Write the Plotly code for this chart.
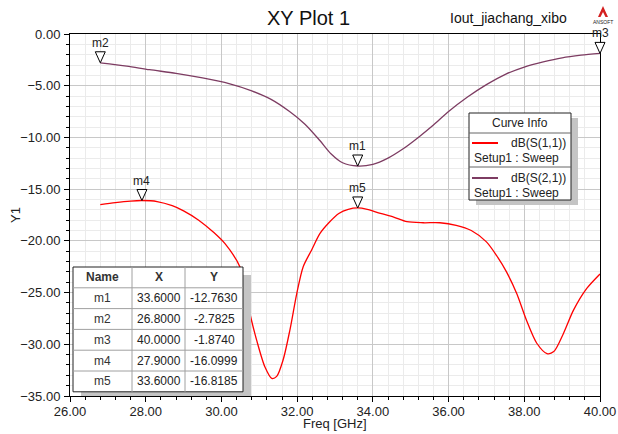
import plotly.graph_objects as go

# ---- sweep data (Freq in GHz, magnitude in dB) ----
freq_s11 = [26.8, 27.2, 27.6, 27.9, 28.3, 28.7, 29.0, 29.4, 29.8, 30.1, 30.5, 30.75,
            30.93, 31.15, 31.33, 31.46, 31.63, 31.81, 31.99, 32.16, 32.38, 32.6, 32.85,
            33.1, 33.35, 33.6, 33.85, 34.2, 34.55, 34.9, 35.33, 35.77, 36.2, 36.6,
            37.0, 37.3, 37.53, 37.8, 38.06, 38.33, 38.6, 38.78, 39.04, 39.3, 39.65, 40.0]
s11_db = [-16.5, -16.3, -16.15, -16.0999, -16.2, -16.6, -17.1, -18.0, -19.2, -20.3,
          -22.6, -27.0, -29.6, -32.2, -33.3, -33.1, -31.5, -28.6, -25.1, -22.5, -20.9,
          -19.3, -18.2, -17.35, -16.95, -16.8185, -16.95, -17.35, -17.7, -18.15, -18.25,
          -18.25, -18.5, -19.0, -20.1, -21.6, -23.0, -25.1, -27.7, -29.9, -30.9, -30.7,
          -28.9, -26.7, -24.6, -23.2]

freq_s21 = [26.8, 27.5, 28.1, 28.8, 29.5, 30.2, 30.8, 31.3, 31.8, 32.2, 32.6, 32.9,
            33.2, 33.6, 34.0, 34.4, 34.8, 35.2, 35.6, 36.0, 36.5, 37.0, 37.5, 38.0,
            38.5, 39.0, 39.5, 40.0]
s21_db = [-2.7825, -3.1, -3.45, -3.8, -4.25, -4.8, -5.5, -6.3, -7.5, -8.7, -10.3,
          -11.6, -12.45, -12.763, -12.6, -12.0, -11.1, -10.0, -8.8, -7.5, -6.1, -4.9,
          -3.9, -3.2, -2.7, -2.3, -2.05, -1.874]

marker_names = ["m1", "m2", "m3", "m4", "m5"]
marker_freq = [33.6, 26.8, 40.0, 27.9, 33.6]
marker_db = [-12.7630, -2.7825, -1.8740, -16.0999, -16.8185]

curve_names = ["dB(S(1,1))", "dB(S(2,1))"]
curve_setup = "Setup1 : Sweep"
table_header = ["Name", "X", "Y"]

RED = "#ff0000"
PURPLE = "#7d3c62"
FONT = "Liberation Sans, Arial, sans-serif"

X_RANGE = [26.0, 40.0]
Y_RANGE = [-35.0, 0.0]
W, H = 618, 434
M_L, M_R, M_T, M_B = 70, 18, 34, 38
PW = W - M_L - M_R
PH = H - M_T - M_B


def px(xp):
    """pixel column -> paper x"""
    return (xp - M_L) / PW


def py(yp):
    """pixel row -> paper y"""
    return (H - M_B - yp) / PH


def dx(v):
    """data x -> paper x"""
    return (v - X_RANGE[0]) / (X_RANGE[1] - X_RANGE[0])


def dy(v):
    """data y -> paper y"""
    return (v - Y_RANGE[0]) / (Y_RANGE[1] - Y_RANGE[0])


fig = go.Figure()
fig.add_trace(go.Scatter(x=freq_s11, y=s11_db, mode="lines", name=curve_names[0],
                         line=dict(color=RED, width=1.3, shape="spline", smoothing=0.8),
                         showlegend=False, hoverinfo="skip"))
fig.add_trace(go.Scatter(x=freq_s21, y=s21_db, mode="lines", name=curve_names[1],
                         line=dict(color=PURPLE, width=1.3, shape="spline", smoothing=0.8),
                         showlegend=False, hoverinfo="skip"))

shapes = []
annotations = []

# ---- markers: open down-triangles whose tip sits on the point ----
for name, fx, fy in zip(marker_names, marker_freq, marker_db):
    shapes.append(dict(type="path", xref="paper", yref="paper",
                       xsizemode="pixel", ysizemode="pixel",
                       xanchor=dx(fx), yanchor=dy(fy),
                       path="M -5,11 L 5,11 L 0,0 Z",
                       fillcolor="white", line=dict(color="black", width=1),
                       layer="above"))
    annotations.append(dict(x=fx, y=fy, xref="x", yref="y", text=name, showarrow=False,
                            yshift=20, yanchor="middle",
                            font=dict(family=FONT, size=12, color="#222")))

# ---- marker table ----
col_edges = [73, 132, 185, 243]
row_top, row_h = 267, 20.8
n_rows = len(marker_names) + 1
row_edges = [row_top + k * row_h for k in range(n_rows + 1)]
tbl_bottom = row_edges[-1]

shapes.append(dict(type="rect", xref="paper", yref="paper",
                   x0=px(col_edges[0] + 8), x1=px(col_edges[-1] + 8),
                   y0=py(min(tbl_bottom + 8, H - M_B)), y1=py(row_top + 8),
                   fillcolor="#c4c4c4", line=dict(width=0), layer="above"))
shapes.append(dict(type="rect", xref="paper", yref="paper",
                   x0=px(col_edges[0]), x1=px(col_edges[-1]),
                   y0=py(tbl_bottom), y1=py(row_top),
                   fillcolor="white", line=dict(color="#222", width=1), layer="above"))
for r in row_edges[1:-1]:
    shapes.append(dict(type="line", xref="paper", yref="paper",
                       x0=px(col_edges[0]), x1=px(col_edges[-1]), y0=py(r), y1=py(r),
                       line=dict(color="#a0a0a0", width=1), layer="above"))
for c in col_edges[1:-1]:
    shapes.append(dict(type="line", xref="paper", yref="paper",
                       x0=px(c), x1=px(c), y0=py(tbl_bottom), y1=py(row_top),
                       line=dict(color="#a0a0a0", width=1), layer="above"))

table_rows = [table_header] + [[n, f"{fx:.4f}", f"{fy:.4f}"]
                               for n, fx, fy in zip(marker_names, marker_freq, marker_db)]
for ri, row in enumerate(table_rows):
    yc = (row_edges[ri] + row_edges[ri + 1]) / 2
    for ci, txt in enumerate(row):
        xc = (col_edges[ci] + col_edges[ci + 1]) / 2
        bold = ri == 0 or ci == 0
        annotations.append(dict(x=px(xc), y=py(yc), xref="paper", yref="paper",
                                text=f"<b>{txt}</b>" if (ri == 0) else txt,
                                showarrow=False, xanchor="center", yanchor="middle",
                                font=dict(family=FONT, size=12,
                                          color="#333" if bold else "#222")))

# ---- curve info box ----
lg_l, lg_r, lg_t, lg_b = 469, 571, 113, 200
lg_head, lg_split = 133, 167
shapes.append(dict(type="rect", xref="paper", yref="paper",
                   x0=px(lg_l + 7), x1=px(lg_r + 7), y0=py(lg_b + 5), y1=py(lg_t + 5),
                   fillcolor="#c4c4c4", line=dict(width=0), layer="above"))
shapes.append(dict(type="rect", xref="paper", yref="paper",
                   x0=px(lg_l), x1=px(lg_r), y0=py(lg_b), y1=py(lg_t),
                   fillcolor="white", line=dict(color="#222", width=1), layer="above"))
for r in (lg_head, lg_split):
    shapes.append(dict(type="line", xref="paper", yref="paper",
                       x0=px(lg_l), x1=px(lg_r), y0=py(r), y1=py(r),
                       line=dict(color="#666", width=1), layer="above"))
annotations.append(dict(x=px((lg_l + lg_r) / 2), y=py(123), xref="paper", yref="paper",
                        text="Curve Info", showarrow=False, xanchor="center",
                        yanchor="middle",
                        font=dict(family=FONT, size=12, color="#222")))
for k, (cname, ccol) in enumerate(zip(curve_names, [RED, PURPLE])):
    y_line = 143 + k * 35
    shapes.append(dict(type="line", xref="paper", yref="paper",
                       x0=px(472), x1=px(498), y0=py(y_line), y1=py(y_line),
                       line=dict(color=ccol, width=2), layer="above"))
    annotations.append(dict(x=px(568), y=py(y_line), xref="paper", yref="paper",
                            text=cname, showarrow=False, xanchor="right", yanchor="middle",
                            font=dict(family=FONT, size=12, color="#222")))
    annotations.append(dict(x=px(472), y=py(y_line + 15), xref="paper", yref="paper",
                            text=curve_setup, showarrow=False, xanchor="left",
                            yanchor="middle",
                            font=dict(family=FONT, size=12, color="#222")))

# ---- titles ----
annotations.append(dict(x=px(308), y=py(18), xref="paper", yref="paper", text="XY Plot 1",
                        showarrow=False, xanchor="center", yanchor="middle",
                        font=dict(family=FONT, size=20, color="#111")))
annotations.append(dict(x=px(508), y=py(18), xref="paper", yref="paper",
                        text="Iout_jiachang_xibo", showarrow=False, xanchor="center",
                        yanchor="middle",
                        font=dict(family=FONT, size=14, color="#111")))
annotations.append(dict(x=px(335), y=py(423), xref="paper", yref="paper",
                        text="Freq [GHz]", showarrow=False, xanchor="center",
                        yanchor="middle",
                        font=dict(family=FONT, size=13, color="#222")))
annotations.append(dict(x=px(15), y=py(215), xref="paper", yref="paper", text="Y1",
                        showarrow=False, textangle=-90, xanchor="center", yanchor="middle",
                        font=dict(family=FONT, size=13, color="#222")))

# small vendor logo
shapes.append(dict(type="path", xref="paper", yref="paper", xsizemode="pixel",
                   ysizemode="pixel", xanchor=px(603), yanchor=py(17),
                   path="M -5,0 L 0,11 L 5,0 L 2.5,0 L 0,5 L -2.5,0 Z",
                   fillcolor="#d42020", line=dict(width=0), layer="above"))
annotations.append(dict(x=px(603), y=py(22), xref="paper", yref="paper", text="ANSOFT",
                        showarrow=False, xanchor="center", yanchor="middle",
                        font=dict(family=FONT, size=5, color="#222")))

axis_common = dict(showline=True, linecolor="black", linewidth=1, mirror=True,
                   ticks="outside", ticklen=5, tickcolor="black", automargin=False,
                   tickfont=dict(family=FONT, size=13, color="#222"),
                   showgrid=True, gridcolor="#c8c8c8", gridwidth=1, zeroline=False,
                   tickformat=".2f")

fig.update_layout(
    width=W, height=H,
    margin=dict(l=M_L, r=M_R, t=M_T, b=M_B, autoexpand=False),
    paper_bgcolor="white", plot_bgcolor="white",
    xaxis=dict(range=X_RANGE, tick0=26, dtick=2, ticklabelstandoff=-2,
               minor=dict(dtick=0.4, showgrid=True, gridcolor="#ebebeb",
                          ticks="outside", ticklen=3, tickcolor="black"),
               **axis_common),
    yaxis=dict(range=Y_RANGE, tick0=0, dtick=5, ticklabelstandoff=1,
               minor=dict(dtick=1, showgrid=True, gridcolor="#ebebeb",
                          ticks="outside", ticklen=3, tickcolor="black"),
               **axis_common),
    shapes=shapes,
    annotations=annotations,
)

fig.write_html("out.html")
